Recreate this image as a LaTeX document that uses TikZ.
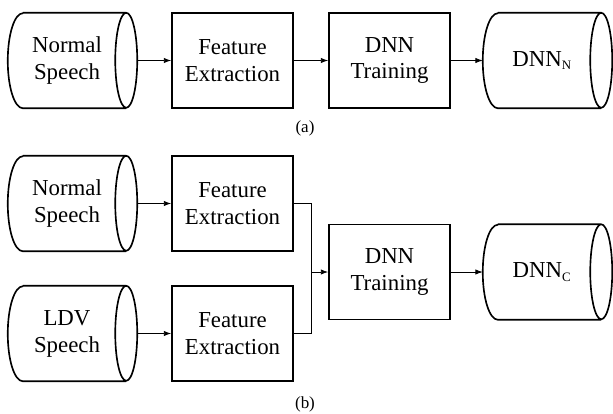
\documentclass[tikz,border=0pt]{standalone}
\usepackage{fontspec}
\setmainfont{Liberation Serif}
\usetikzlibrary{arrows.meta}

\newcommand{\modelsub}[1]{\textsubscript{\fontsize{11}{11}\selectfont #1}}

\begin{document}
\begin{tikzpicture}[x=0.03cm, y=-0.03cm, font=\fontsize{19.5}{23}\selectfont,
    box/.style={draw, line width=1.4pt, align=center, minimum width=3.63cm, minimum height=2.85cm, inner sep=0pt},
    store/.style={align=center, minimum width=3.54cm, minimum height=2.85cm, inner sep=0pt,
        append after command={\pgfextra{
            \draw[line width=1.4pt, line join=round]
                ([xshift=0.45cm]\tikzlastnode.north west) -- (\tikzlastnode.north east)
                arc[start angle=90, end angle=-270, x radius=0.33cm, y radius=1.425cm]
                (\tikzlastnode.south east) -- ([xshift=0.45cm]\tikzlastnode.south west)
                arc[start angle=270, end angle=90, x radius=0.45cm, y radius=1.425cm];
            \coordinate (\tikzlastnode-out) at ([xshift=0.33cm]\tikzlastnode.east);}}},
    link/.style={line width=0.7pt, -{Latex[length=2.2mm, width=1.6mm]}},
    caption/.style={font=\fontsize{14.5}{17}\selectfont}]
    \useasboundingbox (0,0) rectangle (613,413);

    % (a)
    \node[store]  (NSa)  at ( 67,  60.5)  {Normal \\ Speech};
    \node[box]    (FEa)  at (232.5,  60.5)  {Feature \\ Extraction};
    \node[box]    (DTa)  at (389.5,  60.5)  {DNN \\ Training};
    \node[store]  (DNa)  at (542,  60.5)  {DNN\modelsub{N}};
    \node[caption] (capa) at (305, 128)   {(a)};

    \draw[link] (NSa-out) -- (FEa);
    \draw[link] (FEa) -- (DTa);
    \draw[link] (DTa) -- (DNa);

    % (b)
    \node[store]  (NSb)  at ( 67, 203.5)  {Normal \\ Speech};
    \node[box]    (FEb)  at (232.5, 203.5)  {Feature \\ Extraction};
    \node[store]  (LDV)  at ( 67, 333.5)  {LDV \\ Speech};
    \node[box]    (FEl)  at (232.5, 333.5)  {Feature \\ Extraction};
    \node[box]    (DTb)  at (389.5, 272)    {DNN \\ Training};
    \node[store]  (DNb)  at (542, 272)      {DNN\modelsub{C}};
    \node[caption] (capb) at (305, 404)     {(b)};
    \coordinate   (J)    at (311, 272);

    \draw[link] (NSb-out) -- (FEb);
    \draw[link] (LDV-out) -- (FEl);
    \draw[line width=0.7pt] (FEb) -| (J);
    \draw[line width=0.7pt] (FEl) -| (J);
    \draw[link] (J) -- (DTb);
    \draw[link] (DTb) -- (DNb);
\end{tikzpicture}
\end{document}
